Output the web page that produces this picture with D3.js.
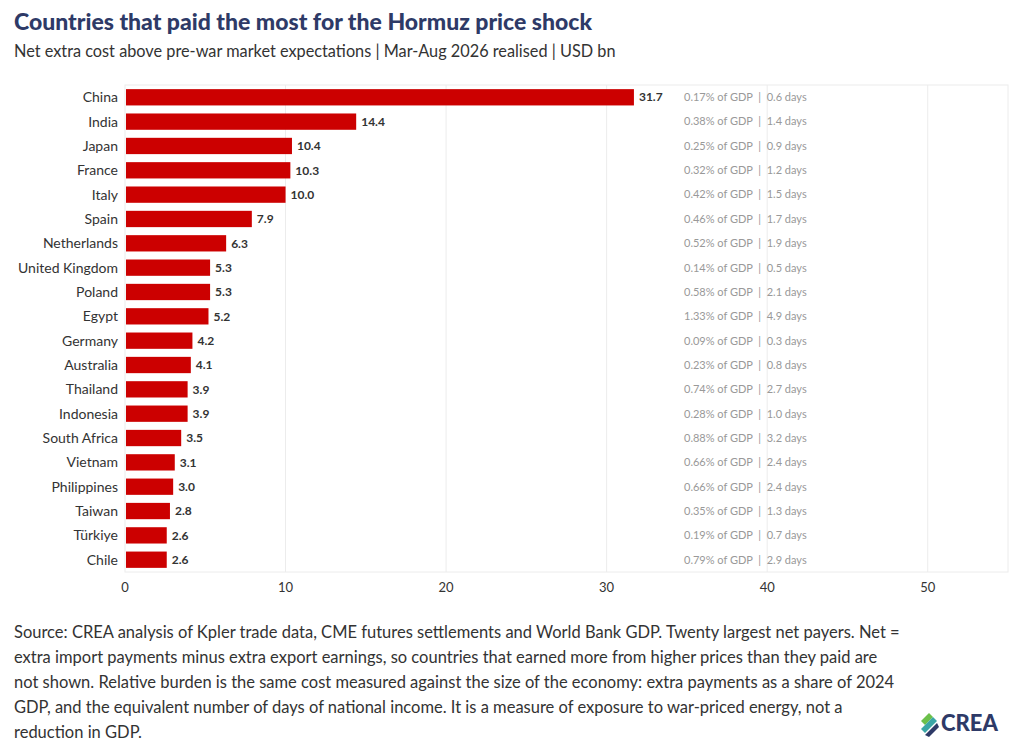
<!DOCTYPE html>
<html><head><meta charset="utf-8">
<script src="https://cdn.jsdelivr.net/npm/d3@7"></script>
<style>body{margin:0;background:#fff;font-family:Lato,"Noto Sans",sans-serif;} .al{white-space:pre;}</style>
</head><body><svg id="c" width="1024" height="755"></svg>
<script>
const countries = ["China","India","Japan","France","Italy","Spain","Netherlands","United Kingdom","Poland","Egypt","Germany","Australia","Thailand","Indonesia","South Africa","Vietnam","Philippines","Taiwan","Türkiye","Chile"];
const costBn = [31.7,14.4,10.4,10.3,10.0,7.9,6.3,5.3,5.3,5.2,4.2,4.1,3.9,3.9,3.5,3.1,3.0,2.8,2.6,2.6];
const gdpShare = ["0.17%","0.38%","0.25%","0.32%","0.42%","0.46%","0.52%","0.14%","0.58%","1.33%","0.09%","0.23%","0.74%","0.28%","0.88%","0.66%","0.66%","0.35%","0.19%","0.79%"];
const days = ["0.6","1.4","0.9","1.2","1.5","1.7","1.9","0.5","2.1","4.9","0.3","0.8","2.7","1.0","3.2","2.4","2.4","1.3","0.7","2.9"];
const xTicks = [0,10,20,30,40,50];
const footer = [
 "Source: CREA analysis of Kpler trade data, CME futures settlements and World Bank GDP. Twenty largest net payers. Net =",
 "extra import payments minus extra export earnings, so countries that earned more from higher prices than they paid are",
 "not shown. Relative burden is the same cost measured against the size of the economy: extra payments as a share of 2024",
 "GDP, and the equivalent number of days of national income. It is a measure of exposure to war-priced energy, not a",
 "reduction in GDP."];

const svg = d3.select("#c");
const L = 125, R = 1008, T = 85, B = 572;
const x = d3.scaleLinear().domain([0,55]).range([L,R]);
const y = d3.scaleBand().domain(countries).range([T,B]).paddingInner(0.33).paddingOuter(0.17);

svg.append("text").attr("x",14).attr("y",30).attr("fill","#2e3a67")
  .attr("font-size",23).attr("font-weight",900).text("Countries that paid the most for the Hormuz price shock");
svg.append("text").attr("x",14).attr("y",57).attr("fill","#333")
  .attr("font-size",16.3).text("Net extra cost above pre-war market expectations | Mar-Aug 2026 realised | USD bn");

svg.append("rect").attr("x",L).attr("y",T).attr("width",R-L).attr("height",B-T)
  .attr("fill","none").attr("stroke","#ececec");
svg.selectAll(".grid").data(xTicks.slice(1)).enter().append("line")
  .attr("x1",d=>x(d)).attr("x2",d=>x(d)).attr("y1",T).attr("y2",B).attr("stroke","#ececec");
svg.selectAll(".xt").data(xTicks).enter().append("text")
  .attr("x",d=>x(d)).attr("y",B+20).attr("text-anchor","middle").attr("font-size",13).attr("fill","#333").text(d=>d);

svg.selectAll(".bar").data(costBn).enter().append("rect")
  .attr("x",x(0)+1).attr("y",(d,i)=>y(countries[i])).attr("height",y.bandwidth())
  .attr("width",d=>x(d)-x(0)-1).attr("fill","#cc0000");
svg.selectAll(".cl").data(countries).enter().append("text")
  .attr("x",L-7).attr("y",d=>y(d)+y.bandwidth()/2).attr("dy","0.35em").attr("text-anchor","end")
  .attr("font-size",14).attr("fill","#333").text(d=>d);
svg.selectAll(".vl").data(costBn).enter().append("text")
  .attr("x",d=>x(d)+5).attr("y",(d,i)=>y(countries[i])+y.bandwidth()/2).attr("dy","0.35em")
  .attr("font-size",12).attr("font-weight",700).attr("fill","#333").text(d=>d.toFixed(1));
svg.selectAll(".al").data(countries).enter().append("text").attr("class","al")
  .attr("x",684).attr("y",d=>y(d)+y.bandwidth()/2).attr("dy","0.35em")
  .attr("font-size",11).attr("fill","#999").text((d,i)=>`${gdpShare[i]} of GDP  |  ${days[i]} days`);

svg.selectAll(".ft").data(footer).enter().append("text")
  .attr("x",14).attr("y",(d,i)=>638+i*25).attr("font-size",16.5).attr("fill","#333").text(d=>d);

const logo = svg.append("g").attr("transform","translate(921,731)");
logo.append("path").attr("d","M0,-10 L8,-18 L12,-14 L4,-6 Z").attr("fill","#6cc04a");
logo.append("path").attr("d","M0,-2 L12,-14 L16,-10 L4,2 Z").attr("fill","#3aa6a6");
logo.append("path").attr("d","M4,4 L16,-8 L18,-4 L8,6 Z").attr("fill","#2e3a67");
logo.append("text").attr("x",20).attr("y",0).attr("font-size",22).attr("font-weight",900)
  .attr("fill","#2e3a67").text("CREA");
</script></body></html>
